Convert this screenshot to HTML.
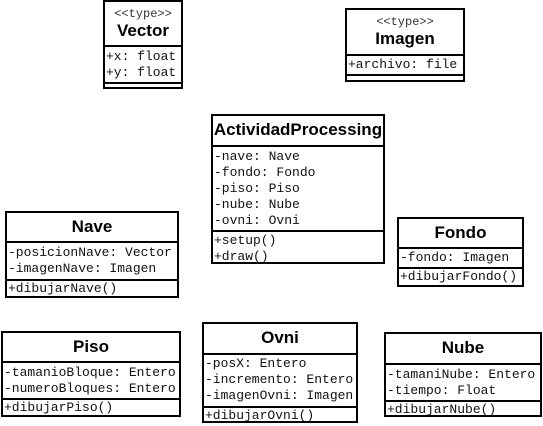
<!DOCTYPE html>
<html><head><meta charset="utf-8"><style>
body{margin:0;width:543px;height:426px;background:#fff;position:relative;overflow:hidden}
.b{position:absolute;border:2px solid #000;box-sizing:border-box;background:#fff;overflow:hidden}
.s{border-top:2px solid #000;box-sizing:border-box;font-family:"Liberation Mono","Courier New","DejaVu Sans Mono",monospace;font-size:13px;line-height:16px;padding-left:1px;color:#111;white-space:pre}
.t{text-align:center;font-family:"Liberation Sans",Arial,sans-serif;font-weight:bold;font-size:17px;color:#000;box-sizing:border-box}
.st{font-family:"Liberation Mono","Courier New",monospace;font-size:12px;font-weight:normal;color:#333;line-height:14px}
</style></head><body>

<div class="b" style="left:103px;top:0;width:80px;height:89px">
<div class="t" style="height:43px;padding-top:5px"><div class="st">&lt;&lt;type&gt;&gt;</div><div style="line-height:20px">Vector</div></div>
<div class="s" style="height:37px;padding-top:2px">+x: float
+y: float</div>
<div class="s" style="height:5px"></div>
</div>

<div class="b" style="left:345px;top:8px;width:120px;height:74px">
<div class="t" style="height:44px;padding-top:5px"><div class="st">&lt;&lt;type&gt;&gt;</div><div style="line-height:20px">Imagen</div></div>
<div class="s" style="height:20px;padding-top:1px">+archivo: file</div>
<div class="s" style="height:6px"></div>
</div>

<div class="b" style="left:211px;top:114px;width:174px;height:150px">
<div class="t" style="height:29px;padding-top:4px">ActividadProcessing</div>
<div class="s" style="height:85px;padding-top:2px">-nave: Nave
-fondo: Fondo
-piso: Piso
-nube: Nube
-ovni: Ovni</div>
<div class="s" style="height:32px;padding-top:1px">+setup()
+draw()</div>
</div>

<div class="b" style="left:397px;top:217px;width:127px;height:70px">
<div class="t" style="height:28px;padding-top:4px">Fondo</div>
<div class="s" style="height:20px;padding-top:1px">-fondo: Imagen</div>
<div class="s" style="height:18px;padding-top:0">+dibujarFondo()</div>
</div>

<div class="b" style="left:5px;top:211px;width:174px;height:87px">
<div class="t" style="height:28px;padding-top:4px">Nave</div>
<div class="s" style="height:38px;padding-top:2px">-posicionNave: Vector
-imagenNave: Imagen</div>
<div class="s" style="height:17px;padding-top:0">+dibujarNave()</div>
</div>

<div class="b" style="left:1px;top:331px;width:180px;height:86px">
<div class="t" style="height:28px;padding-top:4px">Piso</div>
<div class="s" style="height:37px;padding-top:2px">-tamanioBloque: Entero
-numeroBloques: Entero</div>
<div class="s" style="height:17px;padding-top:0">+dibujarPiso()</div>
</div>

<div class="b" style="left:202px;top:322px;width:156px;height:101px">
<div class="t" style="height:29px;padding-top:4px">Ovni</div>
<div class="s" style="height:53px;padding-top:1px">-posX: Entero
-incremento: Entero
-imagenOvni: Imagen</div>
<div class="s" style="height:15px;padding-top:0">+dibujarOvni()</div>
</div>

<div class="b" style="left:384px;top:332px;width:158px;height:85px">
<div class="t" style="height:29px;padding-top:4px">Nube</div>
<div class="s" style="height:37px;padding-top:2px">-tamaniNube: Entero
-tiempo: Float</div>
<div class="s" style="height:15px;padding-top:0">+dibujarNube()</div>
</div>

</body></html>
